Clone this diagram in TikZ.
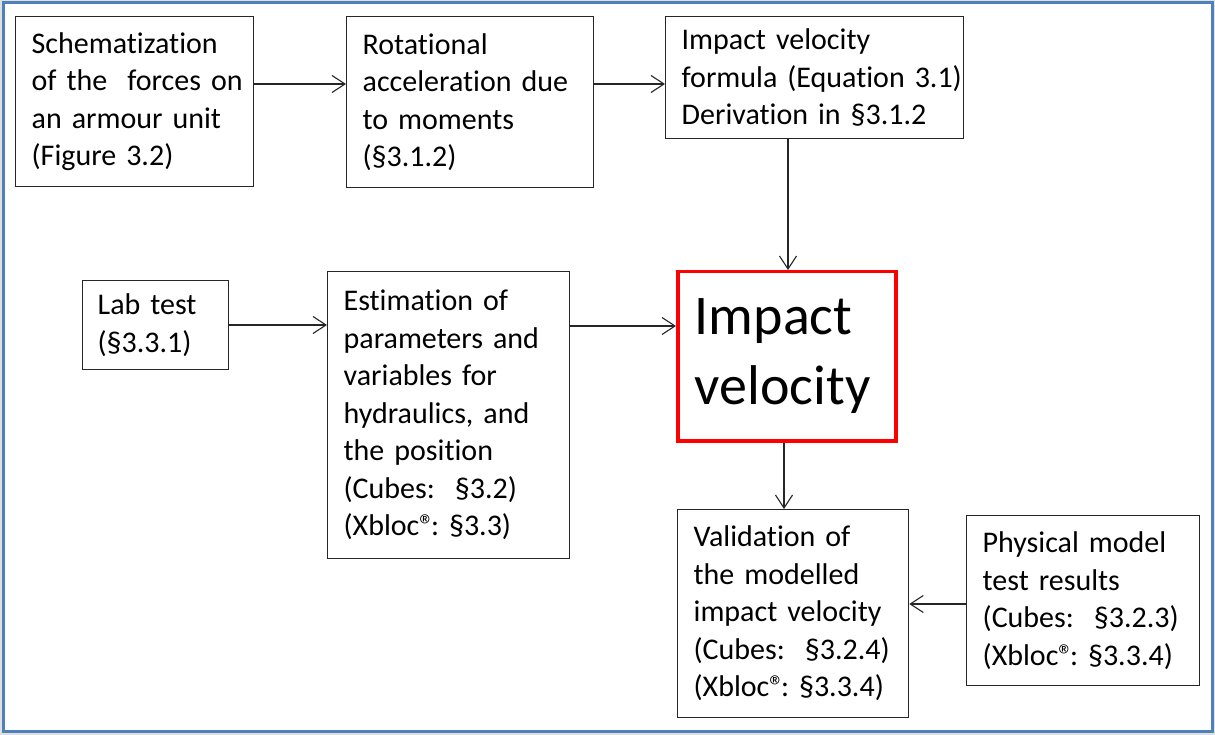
\documentclass[tikz,border=0pt]{standalone}
\usepackage{fontspec}
\setmainfont[Ligatures=NoCommon]{Carlito}
\usetikzlibrary{arrows.meta}
\newcommand{\Ln}[1]{\mbox{#1}}
\newcommand{\regm}{®\kern-0.12em}
\begin{document}
\frenchspacing\hyphenpenalty=10000\exhyphenpenalty=10000\hbadness=10000\hfuzz=500pt
\begin{tikzpicture}[x=1pt,y=-1pt,
  box/.style={draw=black!85,line width=1.3pt,rectangle,align=left,anchor=north west,
    inner xsep=0pt,inner ysep=0pt,font=\fontsize{30}{37.5}\selectfont},
  conn/.style={draw=black!85,line width=1.1pt,-{Straight Barb[length=13pt,width=17pt,line width=1.1pt]}}]
\useasboundingbox (0,0) rectangle (1215,735);
\fill[black!12] (0,0) rectangle (1215,735);
\filldraw[fill=white,draw={rgb,255:red,79;green,129;blue,189},line width=3pt] (3,3) rectangle (1212,731);
\node[box,minimum width=238pt,minimum height=170pt,text width=206pt] (a) at (15,16)
  {\Ln{Schematization}\\\Ln{of the\ \ forces on}\\\Ln{an armour unit}\\\Ln{(Figure 3.2)}};
\node[box,minimum width=247pt,minimum height=171pt,text width=215pt] (b) at (346,16)
  {\Ln{Rotational}\\\Ln{acceleration due}\\\Ln{to moments}\\\Ln{(§3.1.2)}};
\node[box,minimum width=298pt,minimum height=122pt,text width=266pt] (c) at (665,16)
  {\Ln{Impact velocity}\\\Ln{formula (Equation 3.1)}\\\Ln{Derivation in §3.1.2}};
\node[box,minimum width=146pt,minimum height=89pt,text width=116pt] (d) at (82,280)
  {\Ln{Lab test}\\\Ln{(§3.3.1)}};
\node[box,minimum width=242pt,minimum height=287pt,text width=210pt] (e) at (327,271)
  {\Ln{Estimation of}\\\Ln{parameters and}\\\Ln{variables for}\\\Ln{hydraulics, and}\\\Ln{the position}\\\Ln{(Cubes:\ \ §3.2)}\\\Ln{(Xbloc\regm: §3.3)}};
\node[box,draw=red,line width=3.5pt,minimum width=218pt,minimum height=169pt,text width=184pt,
  font=\fontsize{56}{70}\selectfont] (f) at (676,270) {\Ln{Impact}\\\Ln{velocity}};
\node[box,minimum width=231pt,minimum height=208pt,text width=199pt] (g) at (677,509)
  {\Ln{Validation of}\\\Ln{the modelled}\\\Ln{impact velocity}\\\Ln{(Cubes:\ \ §3.2.4)}\\\Ln{(Xbloc\regm: §3.3.4)}};
\node[box,minimum width=233pt,minimum height=170pt,text width=201pt] (h) at (966,515)
  {\Ln{Physical model}\\\Ln{test results}\\\Ln{(Cubes:\ \ §3.2.3)}\\\Ln{(Xbloc\regm: §3.3.4)}};
% connectors
\draw[conn] (a.east |- 0,84) -- (b.west |- 0,84);
\draw[conn] (b.east |- 0,84) -- (c.west |- 0,84);
\draw[conn] (c.south -| 788,0) -- (f.north -| 788,0);
\draw[conn] (d.east |- 0,325) -- (e.west |- 0,325);
\draw[conn] (e.east |- 0,326) -- (f.west |- 0,326);
\draw[conn] (f.south -| 784,0) -- (g.north -| 784,0);
\draw[conn] (h.west |- 0,604) -- (g.east |- 0,604);
\end{tikzpicture}
\end{document}
